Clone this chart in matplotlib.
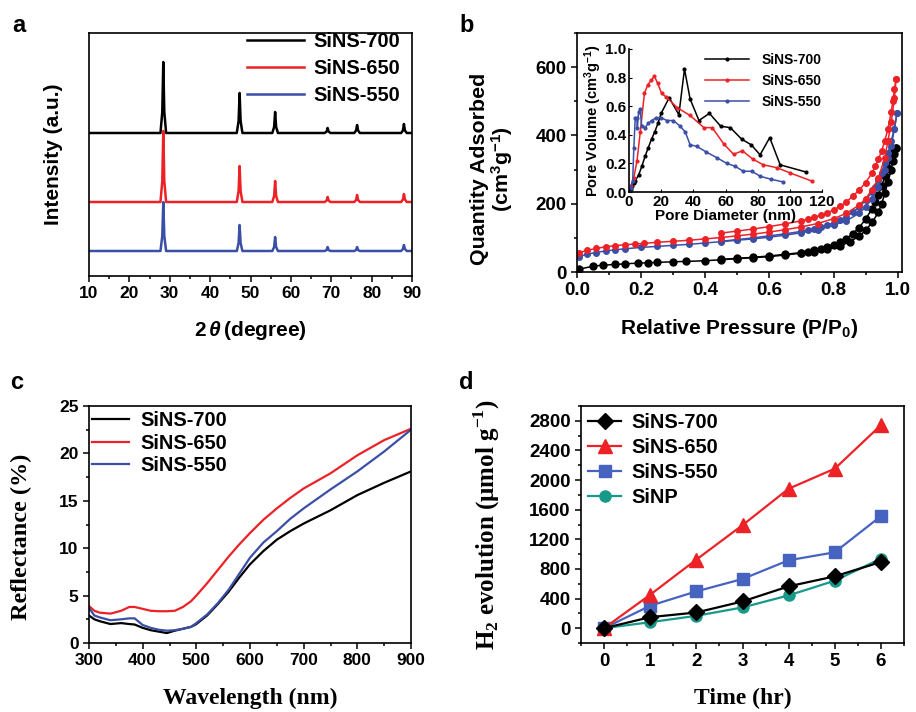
import matplotlib
matplotlib.use("Agg")
import matplotlib.pyplot as plt
from matplotlib.ticker import MultipleLocator, FormatStrFormatter

# ── Fuentes ───────────────────────────────────────────────────────────────────
plt.rcParams['font.family'] = ['Liberation Sans', 'DejaVu Sans']
plt.rcParams['font.weight'] = 'bold'
plt.rcParams['axes.labelweight'] = 'bold'
plt.rcParams['mathtext.fontset'] = 'custom'
plt.rcParams['mathtext.rm'] = 'Liberation Sans:bold'
plt.rcParams['mathtext.it'] = 'Liberation Sans:italic:bold'
plt.rcParams['mathtext.bf'] = 'Liberation Sans:bold'
plt.rcParams['axes.linewidth'] = 1.2
SERIF = dict(family='Liberation Serif', weight='bold')

NEGRO = 'black'
ROJO = '#ec2227'
AZUL = '#3b4fa6'
AZUL_D = '#4663c0'
TEAL = '#17998a'
ETIQ = ['SiNS-700', 'SiNS-650', 'SiNS-550']

# ── (a) DRX ───────────────────────────────────────────────────────────────────
tt = [10, 27.7, 28.15, 28.4, 28.65, 29.1, 46.6, 47.05, 47.3, 47.55, 48.0,
      55.4, 55.85, 56.1, 56.35, 56.8, 68.4, 68.85, 69.1, 69.35, 69.8,
      75.7, 76.15, 76.4, 76.65, 77.1, 87.3, 87.75, 88.0, 88.25, 88.7, 90]
xrd_700 = [143, 143, 164, 214, 164, 143, 143, 155, 183, 155, 143,
           143, 149, 164, 149, 143, 143, 144.5, 148, 144.5, 143,
           143, 145.5, 151, 145.5, 143, 143, 145.5, 152, 145.5, 143, 143]
xrd_650 = [74, 74, 95, 145, 95, 74, 74, 85, 110, 85, 74,
           74, 80, 95, 80, 74, 74, 75.5, 79, 75.5, 74,
           74, 76, 81, 76, 74, 74, 76.5, 82, 76.5, 74, 74]
xrd_550 = [25, 25, 40, 74, 40, 25, 25, 33, 51, 33, 25,
           25, 29, 39, 29, 25, 25, 26, 29, 26, 25,
           25, 26, 29, 26, 25, 25, 27, 31, 27, 25, 25]

# ── (b) isotermas N2 ─────────────────────────────────────────────────────────
p700_ads = [0.005, 0.05, 0.08, 0.12, 0.15, 0.19, 0.22, 0.25, 0.3, 0.34, 0.4, 0.45, 0.5,
            0.55, 0.6, 0.65, 0.7, 0.74, 0.78, 0.82, 0.85, 0.88, 0.9, 0.92, 0.94, 0.95,
            0.96, 0.97, 0.98, 0.985, 0.99, 0.995]
q700_ads = [8, 17, 20, 22, 24, 26, 27, 28, 30, 31, 33, 36, 39,
            42, 45, 50, 55, 60, 66, 76, 88, 105, 122, 145, 175, 200,
            230, 265, 300, 325, 345, 362]
p700_des = [0.995, 0.99, 0.985, 0.98, 0.97, 0.96, 0.95, 0.94, 0.93, 0.92, 0.9, 0.88, 0.86,
            0.84, 0.82, 0.8, 0.78, 0.76, 0.74, 0.72, 0.7, 0.65, 0.6, 0.55, 0.5, 0.45]
q700_des = [364, 358, 345, 330, 305, 280, 252, 225, 205, 185, 155, 130, 112,
            98, 88, 80, 74, 68, 64, 60, 57, 52, 47, 43, 40, 37]

p650_ads = [0.005, 0.03, 0.06, 0.09, 0.12, 0.15, 0.18, 0.21, 0.25, 0.3, 0.35, 0.4, 0.45,
            0.5, 0.55, 0.6, 0.65, 0.7, 0.75, 0.8, 0.84, 0.88, 0.9, 0.92, 0.94, 0.96,
            0.97, 0.98, 0.99, 0.995]
q650_ads = [56, 63, 69, 74, 77, 80, 82, 84, 87, 90, 93, 97, 101,
            106, 111, 117, 124, 132, 142, 156, 172, 196, 215, 240, 275, 335,
            385, 440, 510, 565]
p650_des = [0.995, 0.99, 0.985, 0.98, 0.97, 0.96, 0.95, 0.94, 0.93, 0.92, 0.9, 0.88, 0.86,
            0.84, 0.82, 0.8, 0.78, 0.76, 0.74, 0.72, 0.7, 0.65, 0.6, 0.55, 0.5, 0.45]
q650_des = [565, 535, 500, 470, 420, 385, 355, 330, 310, 290, 262, 240, 222,
            205, 192, 182, 173, 166, 160, 155, 150, 141, 133, 126, 120, 114]

p550_ads = [0.005, 0.03, 0.06, 0.09, 0.12, 0.15, 0.2, 0.25, 0.3, 0.35, 0.4, 0.45, 0.5,
            0.55, 0.6, 0.65, 0.7, 0.75, 0.8, 0.84, 0.88, 0.9, 0.92, 0.94, 0.96, 0.97,
            0.98, 0.99, 0.998]
q550_ads = [44, 52, 57, 62, 65, 68, 72, 75, 78, 81, 85, 89, 93,
            97, 102, 108, 115, 124, 137, 150, 172, 190, 215, 250, 300, 335,
            370, 420, 466]
p550_des = [0.998, 0.99, 0.98, 0.97, 0.96, 0.95, 0.94, 0.93, 0.92, 0.9, 0.88, 0.86, 0.84,
            0.82, 0.8, 0.78, 0.76, 0.74, 0.72, 0.7, 0.65, 0.6, 0.55, 0.5, 0.45]
q550_des = [466, 420, 385, 350, 318, 290, 270, 250, 235, 210, 190, 175, 162,
            152, 144, 138, 132, 127, 123, 119, 112, 106, 100, 95, 90]

# inserto: distribución de poros
d700 = [1, 2, 3, 4, 6, 8, 10, 12, 14, 16, 18, 20, 25, 31, 34.5, 38, 43.5, 50,
        57, 63, 70, 76, 81.5, 87.5, 94, 110]
v700 = [0.02, 0.04, 0.06, 0.08, 0.12, 0.18, 0.25, 0.31, 0.37, 0.42, 0.48, 0.55, 0.66,
        0.54, 0.86, 0.65, 0.50, 0.55, 0.46, 0.45, 0.37, 0.33, 0.26, 0.38, 0.19, 0.14]
d650 = [1, 3, 5, 7, 9.6, 11.7, 13.7, 15.8, 17.8, 20.3, 23, 30, 38, 46.6, 51.7,
        59, 65, 70.5, 77, 83.5, 92, 100, 114]
v650 = [0.04, 0.10, 0.22, 0.42, 0.69, 0.75, 0.78, 0.81, 0.76, 0.69, 0.665, 0.59, 0.535,
        0.45, 0.45, 0.335, 0.264, 0.288, 0.23, 0.19, 0.17, 0.134, 0.075]
d550 = [1.4, 2.3, 3.0, 3.9, 4.8, 5.2, 6.0, 6.9, 7.9, 10, 12, 14, 17, 20, 23.5, 27.6,
        31.8, 35, 38, 42, 48, 54.6, 60.8, 66, 71, 76.4, 81.6, 88, 96]
v550 = [0.03, 0.08, 0.31, 0.52, 0.52, 0.45, 0.56, 0.58, 0.46, 0.45, 0.48, 0.50, 0.52,
        0.52, 0.50, 0.50, 0.46, 0.42, 0.33, 0.32, 0.28, 0.24, 0.20, 0.18, 0.145, 0.145,
        0.11, 0.09, 0.07]

# ── (c) reflectancia ──────────────────────────────────────────────────────────
wl = [300, 310, 320, 340, 360, 375, 385, 400, 415, 430, 445, 460, 475, 490,
      500, 520, 540, 560, 580, 600, 625, 650, 675, 700, 750, 800, 850, 900]
ref_650 = [3.9, 3.4, 3.2, 3.1, 3.4, 3.8, 3.8, 3.6, 3.4, 3.35, 3.35, 3.4, 3.8, 4.4,
           5.0, 6.3, 7.7, 9.1, 10.4, 11.6, 13.0, 14.2, 15.3, 16.3, 17.9, 19.8, 21.4, 22.6]
ref_550 = [3.7, 2.9, 2.7, 2.4, 2.5, 2.6, 2.6, 1.9, 1.6, 1.4, 1.3, 1.35, 1.5, 1.7,
           2.1, 3.0, 4.2, 5.6, 7.3, 9.0, 10.6, 11.8, 13.1, 14.2, 16.2, 18.1, 20.2, 22.5]
ref_700 = [2.9, 2.5, 2.3, 2.0, 2.1, 2.0, 1.95, 1.6, 1.35, 1.2, 1.05, 1.3, 1.5, 1.7,
           2.0, 2.9, 4.1, 5.4, 6.9, 8.3, 9.7, 10.9, 11.8, 12.6, 14.0, 15.6, 16.9, 18.1]

# ── (d) producción de H2 ──────────────────────────────────────────────────────
horas = [0, 1, 2, 3, 4, 5, 6]
h2_700 = [0, 149, 212, 361, 565, 700, 894]
h2_650 = [0, 452, 926, 1391, 1883, 2154, 2741]
h2_550 = [0, 303, 497, 664, 917, 1025, 1513]
h2_np = [0, 81, 167, 280, 443, 641, 939]

W, H = 916, 712


def rect(x0, y0, x1, y1):
    """Rectángulo en píxeles (origen arriba-izquierda) -> coords de figura."""
    return [x0 / W, 1 - y1 / H, (x1 - x0) / W, (y1 - y0) / H]


def ticks(ax, size):
    ax.tick_params(which='both', direction='out', top=False, right=False,
                   labelsize=size, width=1.1)
    ax.tick_params(which='major', length=4)
    ax.tick_params(which='minor', length=2.5)


fig = plt.figure(figsize=(W / 100, H / 100), dpi=100)

# ═════ (a) ═══════════════════════════════════════════════════════════════════
ax = fig.add_axes(rect(89, 33, 412, 276))
ax.plot(tt, xrd_700, color=NEGRO, lw=1.8, label=ETIQ[0])
ax.plot(tt, xrd_650, color=ROJO, lw=1.8, label=ETIQ[1])
ax.plot(tt, xrd_550, color=AZUL, lw=1.8, label=ETIQ[2])
ax.set_xlim(10, 90)
ax.set_ylim(0, 243)
ax.set_yticks([])
ax.xaxis.set_major_locator(MultipleLocator(10))
ax.xaxis.set_minor_locator(MultipleLocator(5))
ticks(ax, 12.5)
ax.set_xlabel(r'2$\,\theta\,$(degree)', fontsize=15)
ax.set_ylabel('Intensity (a.u.)', fontsize=15)
ax.xaxis.set_label_coords(0.5, -0.175)
ax.yaxis.set_label_coords(-0.08, 0.5)
ax.legend(loc='upper left', bbox_to_anchor=(247 / W, 1 - 32 / H),
          bbox_transform=fig.transFigure, frameon=False, fontsize=14.4,
          handlelength=2.85, handletextpad=0.45, labelspacing=0.4,
          borderpad=0, borderaxespad=0)

# ═════ (b) ═══════════════════════════════════════════════════════════════════
ax = fig.add_axes(rect(577, 33, 902, 272))
for p, q, c, ms in [(p700_ads, q700_ads, NEGRO, 5), (p700_des, q700_des, NEGRO, 5),
                    (p550_ads, q550_ads, AZUL, 4), (p550_des, q550_des, AZUL, 4),
                    (p650_ads, q650_ads, ROJO, 4), (p650_des, q650_des, ROJO, 4)]:
    ax.plot(p, q, color=c, lw=1.1, marker='o', ms=ms)
ax.set_xlim(0, 1.0135)
ax.set_ylim(0, 700)
ax.xaxis.set_major_locator(MultipleLocator(0.2))
ax.xaxis.set_minor_locator(MultipleLocator(0.1))
ax.xaxis.set_major_formatter(FormatStrFormatter('%.1f'))
ax.yaxis.set_major_locator(MultipleLocator(200))
ax.yaxis.set_minor_locator(MultipleLocator(100))
ticks(ax, 13.5)
ax.set_xlabel(r'Relative Pressure (P/P$_{0}$)', fontsize=15)
ax.set_ylabel('Quantity Adsorbed\n(cm$^{3}$g$^{-1}$)', fontsize=15.4, linespacing=1.0)
ax.xaxis.set_label_coords(0.5, -0.19)
ax.yaxis.set_label_coords(-0.19, 0.43)

ins = fig.add_axes(rect(629, 49, 822, 192))
ins.plot(d700, v700, color=NEGRO, lw=1.1, marker='o', ms=2, label=ETIQ[0])
ins.plot(d650, v650, color=ROJO, lw=1.1, marker='o', ms=2, label=ETIQ[1])
ins.plot(d550, v550, color=AZUL, lw=1.1, marker='o', ms=2, label=ETIQ[2])
ins.set_xlim(0, 120)
ins.set_ylim(0, 1.0)
ins.spines['top'].set_visible(False)
ins.spines['right'].set_visible(False)
ins.xaxis.set_major_locator(MultipleLocator(20))
ins.yaxis.set_major_locator(MultipleLocator(0.2))
ins.yaxis.set_major_formatter(FormatStrFormatter('%.1f'))
ins.tick_params(direction='in', length=2.5, labelsize=11, pad=2)
ins.set_xlabel('Pore Diameter (nm)', fontsize=11, labelpad=0)
ins.set_ylabel('Pore Volume (cm$^{3}$g$^{-1}$)', fontsize=10.5, labelpad=1)
ins.legend(loc='upper left', bbox_to_anchor=(705 / W, 1 - 53 / H),
           bbox_transform=fig.transFigure, frameon=False, fontsize=10,
           handlelength=3.2, handletextpad=0.85, labelspacing=0.5,
           borderpad=0, borderaxespad=0)

# ═════ (c) ═══════════════════════════════════════════════════════════════════
ax = fig.add_axes(rect(89, 406, 411, 643))
ax.plot(wl, ref_700, color=NEGRO, lw=1.6, label=ETIQ[0])
ax.plot(wl, ref_650, color=ROJO, lw=1.6, label=ETIQ[1])
ax.plot(wl, ref_550, color=AZUL, lw=1.6, label=ETIQ[2])
ax.set_xlim(300, 900)
ax.set_ylim(0, 25)
ax.xaxis.set_major_locator(MultipleLocator(100))
ax.xaxis.set_minor_locator(MultipleLocator(50))
ax.yaxis.set_major_locator(MultipleLocator(5))
ax.yaxis.set_minor_locator(MultipleLocator(2.5))
ticks(ax, 12.5)
ax.set_xlabel('Wavelength (nm)', fontsize=17, **SERIF)
ax.set_ylabel('Reflectance (%)', fontsize=17.5, **SERIF)
ax.xaxis.set_label_coords(0.5, -0.19)
ax.yaxis.set_label_coords(-0.177, 0.45)
ax.legend(loc='upper left', bbox_to_anchor=(92 / W, 1 - 411 / H),
          bbox_transform=fig.transFigure, frameon=False, fontsize=14.4,
          handlelength=1.85, handletextpad=0.55, labelspacing=0.18,
          borderpad=0, borderaxespad=0)

# ═════ (d) ═══════════════════════════════════════════════════════════════════
ax = fig.add_axes(rect(581, 406, 904, 643))
ax.plot(horas, h2_np, color=TEAL, lw=1.6, marker='o', ms=8, label='SiNP', zorder=2)
ax.plot(horas, h2_550, color=AZUL_D, lw=1.6, marker='s', ms=8, label=ETIQ[2], zorder=3)
ax.plot(horas, h2_700, color=NEGRO, lw=1.6, marker='D', ms=8, label=ETIQ[0], zorder=4)
ax.plot(horas, h2_650, color=ROJO, lw=1.6, marker='^', ms=10, label=ETIQ[1], zorder=3)
ax.set_xlim(-0.5, 6.5)
ax.set_ylim(-200, 3000)
ax.xaxis.set_major_locator(MultipleLocator(1))
ax.xaxis.set_minor_locator(MultipleLocator(0.5))
ax.set_yticks(range(0, 2801, 400))
ax.set_yticks(range(-200, 3001, 200), minor=True)
ticks(ax, 13.5)
ax.set_xlabel('Time (hr)', fontsize=17, **SERIF)
ax.set_ylabel(r'H$_{\mathregular{2}}$ evolution (μmol g$^{\mathregular{-1}}$)',
              fontsize=18, **SERIF)
ax.xaxis.set_label_coords(0.5, -0.19)
ax.yaxis.set_label_coords(-0.245, 0.5)
h, l = ax.get_legend_handles_labels()
orden = [2, 3, 1, 0]
ax.legend([h[i] for i in orden], [l[i] for i in orden], loc='upper left',
          bbox_to_anchor=(588 / W, 1 - 413 / H), bbox_transform=fig.transFigure,
          frameon=False, fontsize=14.4, handlelength=1.65, handletextpad=0.5,
          labelspacing=0.3, borderpad=0, borderaxespad=0)

# ── letras de panel ───────────────────────────────────────────────────────────
for letra, x, y in [('a', 12, 32), ('b', 459, 32), ('c', 10, 389), ('d', 459, 389)]:
    fig.text(x / W, 1 - y / H, letra, fontsize=17, fontweight='bold', va='baseline')

fig.savefig('out.png', dpi=100)
